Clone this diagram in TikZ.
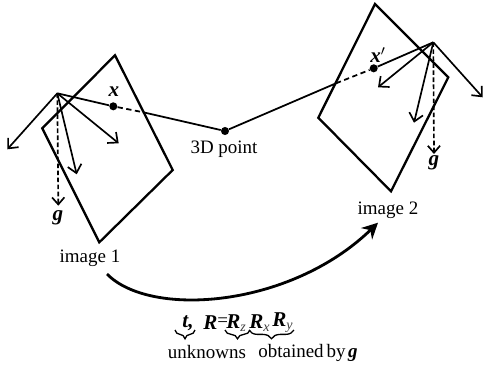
\documentclass[tikz,border=0pt]{standalone}
\usepackage{fontspec}
\usepackage{amsmath}
\setmainfont{Liberation Serif}
\usetikzlibrary{calc,arrows.meta,positioning,decorations.pathreplacing}
\tikzset{
  imageplane/.style={line width=1.3pt,line join=miter},
  viewray/.style={line width=1.0pt},
  axisarrow/.style={line width=0.95pt,-{Straight Barb[length=4.5pt,width=8pt]}},
  gravityarrow/.style={line width=0.95pt,dash pattern=on 2.6pt off 1.4pt,-{Straight Barb[length=4pt,width=7pt]}},
  pointdot/.style={circle,fill=black,inner sep=0pt,minimum size=4.6pt},
  bracket/.style={decorate,decoration={brace,mirror,amplitude=5pt,aspect=0.5},line width=0.75pt},
  lbl/.style={inner sep=0pt,font=\fontsize{10.8}{12}\selectfont},
  mathlbl/.style={inner sep=0pt,font=\fontsize{12}{13}\selectfont\bfseries\itshape}
}
\newcommand{\Sub}[1]{\raisebox{-1.8pt}{\fontsize{8}{8}\selectfont\mdseries\itshape\color{black!75}#1}}
\begin{document}
\begin{tikzpicture}[x=0.02cm,y=-0.02cm]
\useasboundingbox (0,0) rectangle (483,369);
% image planes
\draw[imageplane] (115,55.3) -- (172.7,170) -- (99.3,242.3) -- (42.3,128.3) -- cycle;
\draw[imageplane] (375,4) -- (448.3,77.3) -- (391,191.3) -- (318.3,117.7) -- cycle;
% cameras
\coordinate (cam1) at (57.3,93.3);
\coordinate (cam2) at (433.3,42.3);
\coordinate (edge1) at (143.3,112.3);
\coordinate (edge2) at (336,83.3);
\node[pointdot] (ptx) at (113.3,106.3) {};
\node[pointdot] (ptxp) at (373.7,68.3) {};
\node[pointdot] (pt3d) at (225,131) {};
% rays
\draw[viewray] (cam1) -- (ptx);
\draw[viewray,densely dashed] (ptx) -- (edge1);
\draw[viewray] (edge1) -- (pt3d);
\draw[viewray] (pt3d) -- (edge2);
\draw[viewray,densely dashed] (edge2) -- (ptxp);
\draw[viewray] (ptxp) -- (cam2);
% axes
\coordinate (a1) at (7.3,149.3);
\coordinate (a2) at (76.7,174.3);
\coordinate (a3) at (118.7,143.3);
\coordinate (g1) at (58.3,205.7);
\coordinate (b1) at (482.7,97.3);
\coordinate (b2) at (414,122.7);
\coordinate (b3) at (378,87.3);
\coordinate (g2) at (434,154);
\foreach \p in {a1,a2,a3} \draw[axisarrow] (cam1) -- (\p);
\foreach \p in {b1,b2,b3} \draw[axisarrow] (cam2) -- (\p);
\draw[gravityarrow] (cam1) -- (g1);
\draw[gravityarrow] (cam2) -- (g2);
% labels
\node[mathlbl] (lx) at (114,92) {x};
\node[mathlbl] (lxp) at (378,55) {x$'$};
\node[mathlbl] (lg1) at (58,218) {g};
\node[mathlbl] (lg2) at (434,163) {g};
\node[lbl] (l3d) at (224,149) {3D point};
\node[lbl] (lim1) at (90,258) {image 1};
\node[lbl] (lim2) at (388,210) {image 2};
% big arrow
\coordinate (arrowstart) at (107,274);
\coordinate (arrowend) at (378,222.7);
\draw[line width=1.6pt,-{Stealth[length=9pt,width=9pt]}] (arrowstart) .. controls (150,318) and (290,308) .. (arrowend);
% formula
\node[mathlbl] (lt) at (188,323) {t,};
\node[mathlbl,anchor=west] (lR) at (203,323) {R};
\node[lbl,anchor=west] (leq) at (217,322) {=};
\node[mathlbl,anchor=west] (lRz) at (226,323) {R\Sub{z}};
\node[mathlbl,anchor=west] (lRx) at (249,323) {R\Sub{x}};
\node[mathlbl,anchor=west] (lRy) at (272,323) {R\Sub{y}};
\draw[bracket] (175,330) -- (195,330);
\draw[bracket] (225,330) -- (250,330);
\draw[bracket] (249,330) -- (294,330);
\node[lbl] (lu) at (207,352) {unknowns};
\node[lbl,anchor=west] (lo) at (258,353) {obtained\hspace{1.6pt}by\hspace{1.5pt}\textbf{\textit{g}}};
\end{tikzpicture}
\end{document}
